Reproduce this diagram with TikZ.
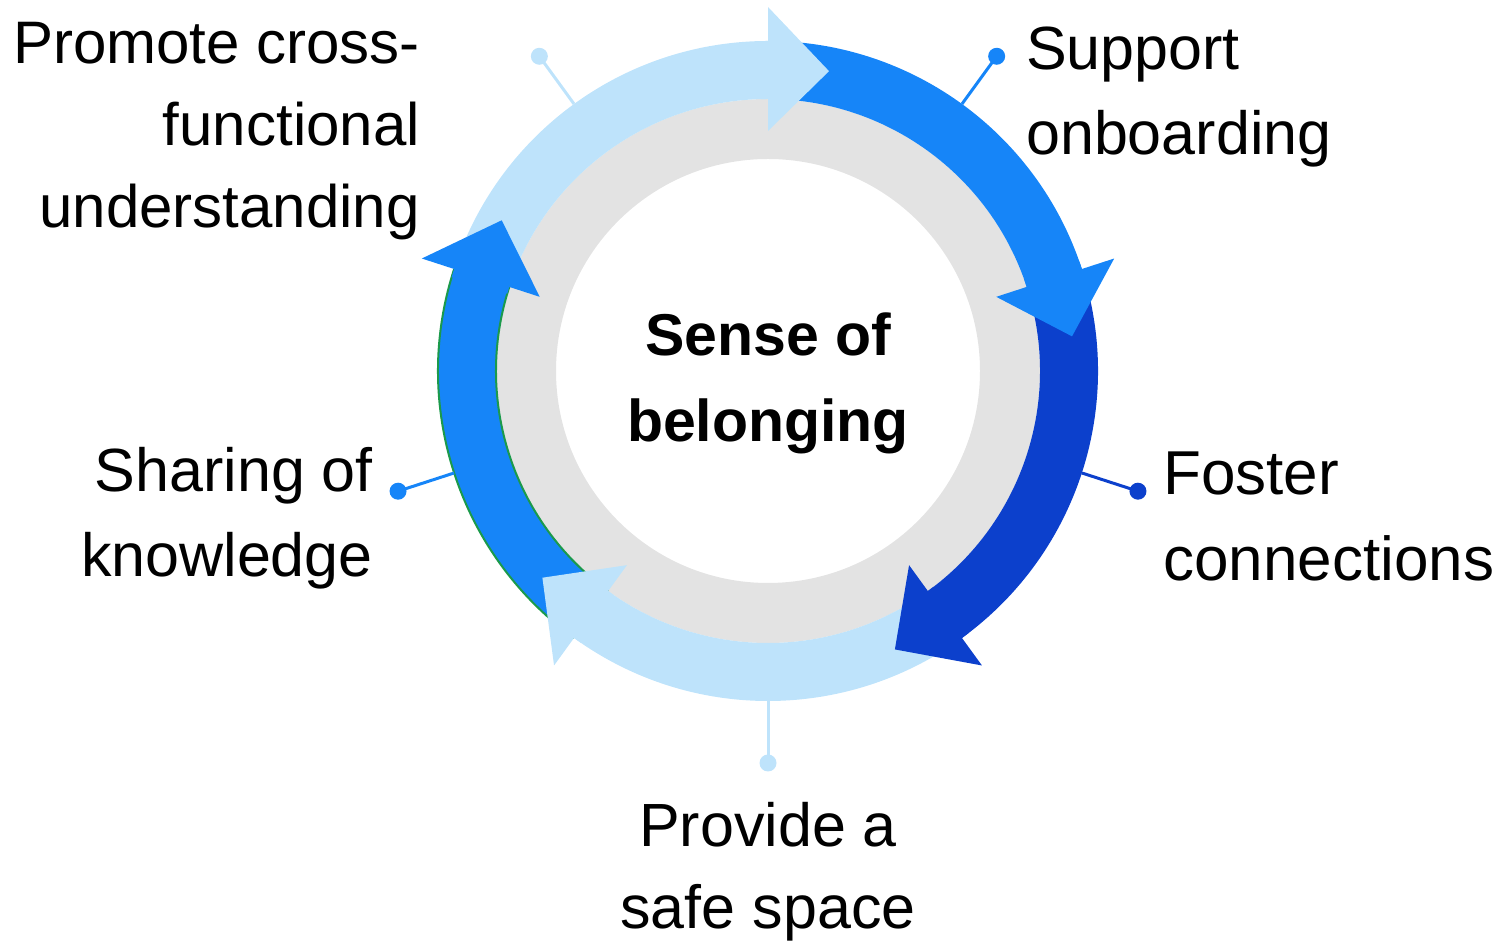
\documentclass[tikz,border=0pt]{standalone}
\usepackage{fontspec}
\setmainfont{Liberation Sans}
\definecolor{lb}{HTML}{BEE3FB}
\definecolor{mb}{HTML}{1685F8}
\definecolor{db}{HTML}{0C40CC}
\definecolor{rg}{HTML}{E3E3E3}
\definecolor{gn}{HTML}{1B9A4B}
\newcommand\ringband[3]{\fill[#3] (#1:330) arc[start angle=#1, end angle=#2, radius=330] -- (#2:272) arc[start angle=#2, end angle=#1, radius=272] -- cycle;}
\newcommand\ringhead[2]{\fill[#2] ({#1+1.5}:330) arc[start angle={#1+1.5}, end angle=#1, radius=330] -- (#1:364) -- ({#1-11.5}:306) -- (#1:240) -- (#1:272) arc[start angle=#1, end angle={#1+1.5}, radius=272] -- cycle;}
\begin{document}
\begin{tikzpicture}[x=1pt,y=1pt,
  lbl/.style={font=\fontsize{61}{85}\selectfont, inner sep=0pt},
  dot/.style={circle, fill=#1, minimum size=17pt, inner sep=0pt},
  lead/.style={line width=3pt, draw=#1},
  edge/.style={draw=gn, line width=2pt}]
\useasboundingbox (0,0) rectangle (1508,944);
\begin{scope}[shift={(768,573)}]
  \fill[rg, even odd rule] (0,0) circle (272) (0,0) circle (212);
  \ringband{162}{90}{lb}
  \ringband{90}{18}{mb}
  \ringband{18}{-54}{db}
  \ringband{-54}{-126}{lb}
  \ringband{-126}{-198}{mb}
  \draw[edge] (-126:330) arc[start angle=-126, end angle=-198, radius=330];
  \draw[edge] (-126:272) arc[start angle=-126, end angle=-198, radius=272];
  \ringhead{90}{lb}
  \ringhead{18}{mb}
  \ringhead{-54}{db}
  \ringhead{-126}{lb}
  \ringhead{-198}{mb}
  % leader lines
  \coordinate (rp) at (126:330);
  \coordinate (rs) at (54:330);
  \coordinate (rf) at (-18:330);
  \coordinate (rv) at (-90:330);
  \coordinate (rk) at (198:330);
  \node[dot=lb] (dp) at (126:389) {};
  \node[dot=mb] (ds) at (54:389) {};
  \node[dot=db] (df) at (-18:389) {};
  \node[dot=lb] (dv) at (-90:392) {};
  \node[dot=mb] (dk) at (198:389) {};
  \draw[lead=lb] (dp.center) -- (rp);
  \draw[lead=mb] (ds.center) -- (rs);
  \draw[lead=db] (df.center) -- (rf);
  \draw[lead=lb] (dv.center) -- (rv);
  \draw[lead=mb] (dk.center) -- (rk);
\end{scope}
\node[lbl, anchor=north east, align=right, font=\fontsize{60}{82}\selectfont] (tp) at (420,922) {Promote cross-\\functional\\understanding};
\node[lbl, anchor=north west, align=left] (ts) at (1026,917) {Support\\onboarding};
\node[lbl, anchor=north west, align=left, font=\fontsize{62}{86}\selectfont] (tf) at (1163,492) {Foster\\connections};
\node[lbl, anchor=north, align=center, font=\fontsize{61}{82}\selectfont] (tv) at (768,142) {Provide a\\safe space};
\node[lbl, anchor=north east, align=right] (tk) at (373,497) {Sharing of\\knowledge};
\node[lbl, anchor=north, align=center, font=\bfseries\fontsize{59}{86}\selectfont] (tc) at (768,631) {Sense of\\belonging};
\end{tikzpicture}
\end{document}
